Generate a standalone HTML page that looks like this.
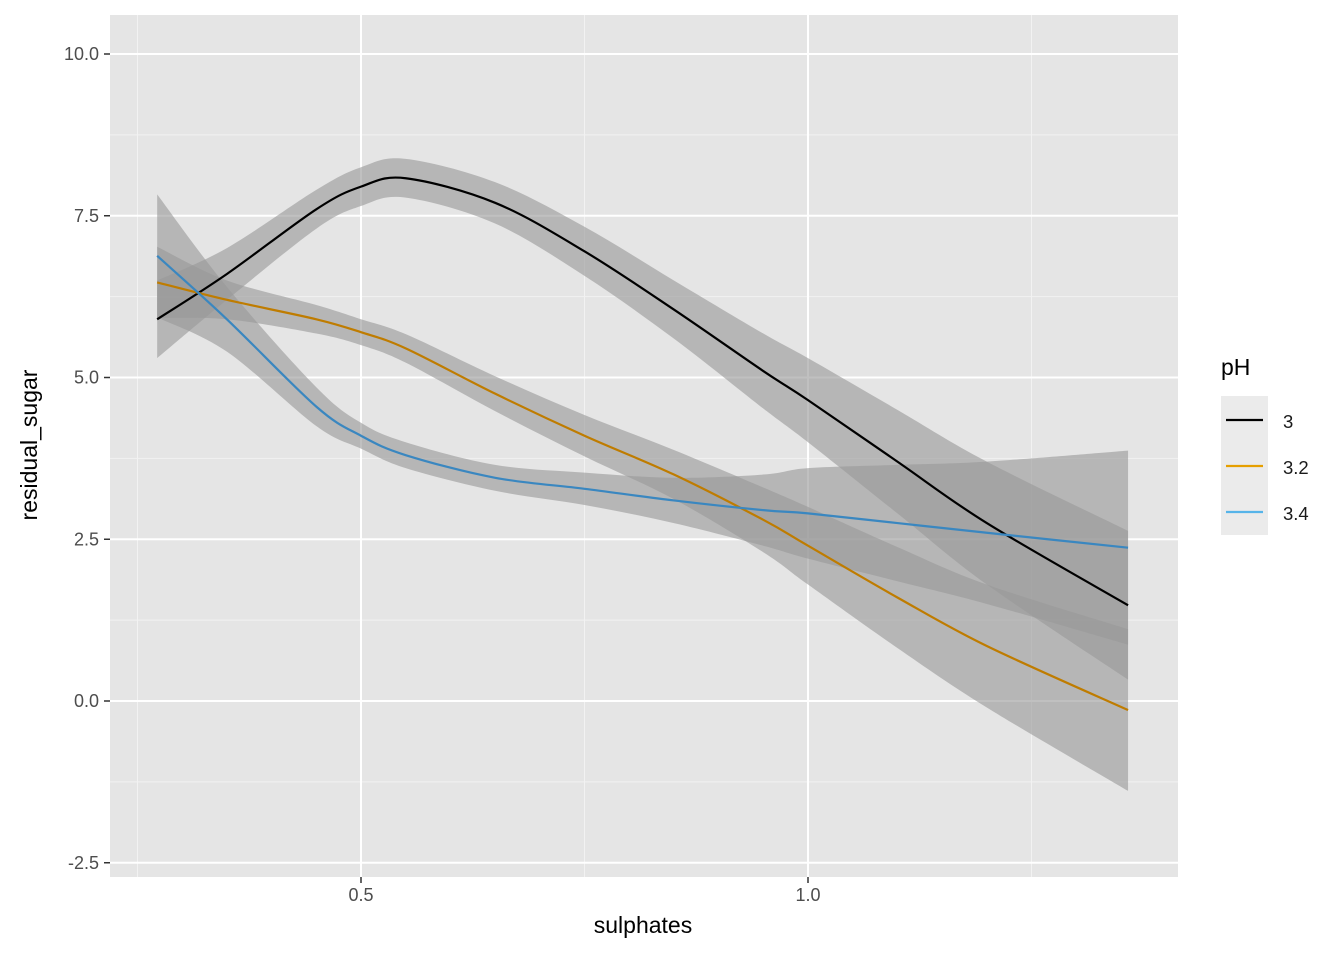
<!DOCTYPE html>
<html><head><meta charset="utf-8"><style>
body{margin:0;background:#fff;font-family:"Liberation Sans",sans-serif}
svg text{font-family:"Liberation Sans",sans-serif}
</style></head><body>
<svg id="chart" width="1344" height="960" xmlns="http://www.w3.org/2000/svg">
<rect x="110" y="15" width="1068" height="862" fill="#e5e5e5"/>
<g id="grid"></g>
<g id="series"></g>
<g id="axes"></g>
<text x="643" y="933" text-anchor="middle" font-size="23" fill="#000">sulphates</text>
<text transform="translate(37,445) rotate(-90)" text-anchor="middle" font-size="23" fill="#000">residual_sugar</text>
<g>
<text x="1221" y="375" font-size="23" fill="#000">pH</text>
<rect x="1221" y="396" width="47" height="139" fill="#ebebeb"/>
<line x1="1226" y1="420" x2="1263" y2="420" stroke="#000" stroke-width="2.2"/>
<line x1="1226" y1="466" x2="1263" y2="466" stroke="#E69F00" stroke-width="2.2"/>
<line x1="1226" y1="512" x2="1263" y2="512" stroke="#56B4E9" stroke-width="2.2"/>
<text x="1283" y="428" font-size="18.5" fill="#1a1a1a">3</text>
<text x="1283" y="474" font-size="18.5" fill="#1a1a1a">3.2</text>
<text x="1283" y="520" font-size="18.5" fill="#1a1a1a">3.4</text>
</g>
</svg>
<script>
const xs = [0.272,0.35,0.45,0.5,0.55,0.65,0.75,0.85,0.95,1.0,1.1,1.2,1.358];
const yBlack = [5.9,6.6,7.6,7.95,8.08,7.7,6.95,6.05,5.1,4.65,3.7,2.75,1.48];
const hwBlack = [0.6,0.4,0.3,0.3,0.3,0.32,0.38,0.45,0.58,0.65,0.8,0.95,1.15];
const yOrange = [6.47,6.2,5.9,5.7,5.45,4.75,4.1,3.5,2.8,2.4,1.6,0.85,-0.14];
const hwOrange = [0.55,0.3,0.22,0.2,0.22,0.27,0.32,0.38,0.5,0.6,0.78,0.95,1.25];
const yBlue = [6.88,5.9,4.55,4.1,3.8,3.45,3.28,3.1,2.95,2.9,2.75,2.6,2.37];
const hwBlue = [0.95,0.5,0.3,0.2,0.2,0.2,0.25,0.35,0.55,0.7,0.9,1.1,1.5];
const yTicks = [-2.5,0,2.5,5,7.5,10];
const yTickLabels = ["-2.5","0.0","2.5","5.0","7.5","10.0"];
const xTicks = [0.5,1.0];
const xTickLabels = ["0.5","1.0"];

const NS="http://www.w3.org/2000/svg";
const sx = v => 361 + (v-0.5)*894;
const sy = v => 701 - v*64.7;
function mk(tag, attrs, parent){const e=document.createElementNS(NS,tag);for(const k in attrs)e.setAttribute(k,attrs[k]);parent.appendChild(e);return e;}
const grid=document.getElementById('grid'), series=document.getElementById('series'), axes=document.getElementById('axes');
for(let i=0;i<yTicks.length-1;i++){const v=(yTicks[i]+yTicks[i+1])/2;
 const l=mk('line',{x1:110,x2:1178,y1:sy(v),y2:sy(v),stroke:'#f2f2f2','stroke-width':1},grid);
 
 }
[0.25,0.75,1.25].forEach(v=>{const l=mk('line',{x1:sx(v),x2:sx(v),y1:15,y2:877,stroke:'#f2f2f2','stroke-width':1},grid);
 
 });
yTicks.forEach((v,i)=>{const l=mk('line',{x1:110,x2:1178,y1:sy(v),y2:sy(v),stroke:'#fff','stroke-width':2},grid);
 
 
 const t=mk('line',{x1:104,x2:110,y1:sy(v),y2:sy(v),stroke:'#333','stroke-width':1.5},axes);
 
 
 const tx=mk('text',{x:99,y:sy(v)+6,'text-anchor':'end','font-size':18,fill:'#4d4d4d'},axes);
 tx.textContent=yTickLabels[i];
 
 });
xTicks.forEach((v,i)=>{const l=mk('line',{x1:sx(v),x2:sx(v),y1:15,y2:877,stroke:'#fff','stroke-width':2},grid);
 
 
 const t=mk('line',{x1:sx(v),x2:sx(v),y1:877,y2:883,stroke:'#333','stroke-width':1.5},axes);
 
 
 const tx=mk('text',{x:sx(v),y:901,'text-anchor':'middle','font-size':18,fill:'#4d4d4d'},axes);
 tx.textContent=xTickLabels[i];
 
 });
function curve(pts){
 let d=`M${pts[0][0]},${pts[0][1]}`;
 for(let i=0;i<pts.length-1;i++){const p0=pts[Math.max(0,i-1)],p1=pts[i],p2=pts[i+1],p3=pts[Math.min(pts.length-1,i+2)];
  const c1=[p1[0]+(p2[0]-p0[0])/6,p1[1]+(p2[1]-p0[1])/6],c2=[p2[0]-(p3[0]-p1[0])/6,p2[1]-(p3[1]-p1[1])/6];
  d+=`C${c1[0]},${c1[1]} ${c2[0]},${c2[1]} ${p2[0]},${p2[1]}`;}
 return d;}
function ribbon(ys,hw){const up=xs.map((x,i)=>[sx(x),sy(ys[i]+hw[i])]);const lo=xs.map((x,i)=>[sx(x),sy(ys[i]-hw[i])]).reverse();
 return curve(up)+'L'+curve(lo).slice(1)+'Z';}
const groups=[[yBlack,hwBlack,'#000','3'],[yOrange,hwOrange,'#BF7C00','3-2'],[yBlue,hwBlue,'#3A87C0','3-4']];
groups.forEach(g=>{const r=mk('path',{d:ribbon(g[0],g[1]),fill:'#999','fill-opacity':0.62},series);
 
 });
groups.forEach(g=>{const l=mk('path',{d:curve(xs.map((x,i)=>[sx(x),sy(g[0][i])])),fill:'none',stroke:g[2],'stroke-width':2.2},series);
 
 });
</script>
</body></html>
